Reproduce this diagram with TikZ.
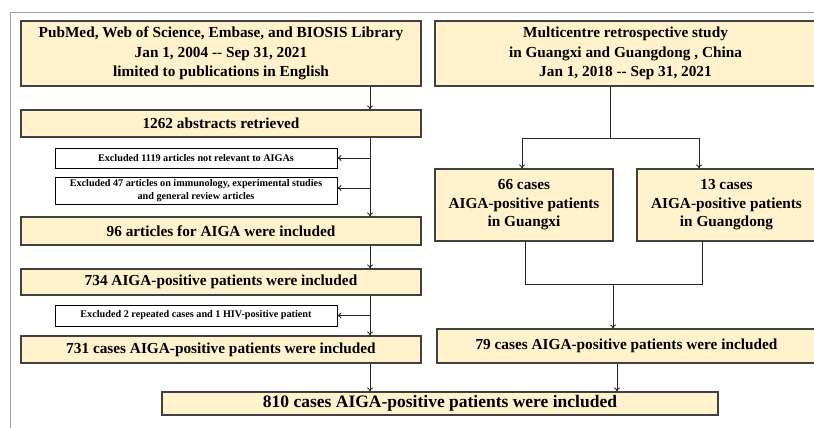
\documentclass[tikz,border=0pt]{standalone}
\usepackage{fontspec}
\setmainfont{Liberation Serif}
\usetikzlibrary{arrows.meta}
\definecolor{boxfill}{HTML}{FFF2CC}
\definecolor{boxline}{HTML}{404040}
\definecolor{framegray}{HTML}{A0A0A0}
\tikzset{
  mainbox/.style={draw=boxline, line width=1.1pt, fill=boxfill, inner sep=0pt, align=center,
    font=\fontsize{15.3}{19.5}\selectfont\bfseries},
  exbox/.style={draw=black, line width=0.8pt, fill=white, inner sep=0pt, align=center,
    font=\fontsize{10.2}{13}\selectfont\bfseries},
  conn/.style={draw=black!85, line width=0.9pt},
  arr/.style={conn, -{To[length=4pt,width=6pt]}},
}
\begin{document}
\begin{tikzpicture}[x=1pt,y=-1pt]
\useasboundingbox (0,0) rectangle (814,428);
\clip (0,0) rectangle (814,428);
% frame
\draw[framegray, line width=1pt] (10,428) -- (10,13) -- (814,13);
% left column boxes
\node[mainbox, minimum width=400pt, minimum height=65pt] (A) at (221,53.5)
  {PubMed, Web of Science, Embase, and BIOSIS Library\\Jan 1, 2004 -{}- Sep 31, 2021\\limited to publications in English};
\node[mainbox, minimum width=400pt, minimum height=27pt] (r1262) at (221,123.5) {1262 abstracts retrieved};
\node[exbox, minimum width=282pt, minimum height=20pt] (e1) at (196,158) {Excluded 1119 articles not relevant to AIGAs};
\node[exbox, minimum width=282pt, minimum height=27pt] (e2) at (196,190.5) {Excluded 47 articles on immunology, experimental studies\\and general review articles};
\node[mainbox, minimum width=400pt, minimum height=28pt] (r96) at (221,231) {96 articles for AIGA were included};
\node[mainbox, minimum width=400pt, minimum height=26pt] (r734) at (221,282) {734 AIGA-positive patients were included};
\node[exbox, minimum width=282pt, minimum height=21pt] (e3) at (196,315.5) {Excluded 2 repeated cases and 1 HIV-positive patient};
\node[mainbox, minimum width=400pt, minimum height=27pt] (r731) at (221,349.5) {731 cases AIGA-positive patients were included};
% right column boxes
\node[mainbox, minimum width=381pt, minimum height=65pt] (B) at (625.5,53.5)
  {Multicentre retrospective study\\in Guangxi and Guangdong , China\\Jan 1, 2018 -{}- Sep 31, 2021};
\node[mainbox, minimum width=178pt, minimum height=72pt, font=\fontsize{15.3}{18.5}\selectfont\bfseries] (g66) at (524,205)
  {66 cases\\AIGA-positive patients\\in Guangxi};
\node[mainbox, minimum width=179pt, minimum height=72pt, font=\fontsize{15.3}{18.5}\selectfont\bfseries] (g13) at (726.5,205)
  {13 cases\\AIGA-positive patients\\in Guangdong};
\node[mainbox, minimum width=379pt, minimum height=34pt] (r79) at (626.5,346) {79 cases AIGA-positive patients were included};
% bottom
\node[mainbox, minimum width=556pt, minimum height=23pt, font=\fontsize{17.5}{21}\selectfont\bfseries] (r810) at (440,403.5) {810 cases AIGA-positive patients were included};
% spine coordinates
\coordinate (s) at (370,0);
\coordinate (sb1) at (370,158);
\coordinate (sb2) at (370,188);
\coordinate (sb3) at (370,315.5);
% left connectors
\draw[arr] (A.south -| s) -- (r1262.north -| s);
\draw[arr] (r1262.south -| s) -- (r96.north -| s);
\draw[arr] (sb1) -- (sb1 -| e1.east);
\draw[arr] (sb2) -- (sb2 -| e2.east);
\draw[arr] (r96.south -| s) -- (r734.north -| s);
\draw[arr] (r734.south -| s) -- (r731.north -| s);
\draw[arr] (sb3) -- (e3.east);
\draw[arr] (r731.south -| s) -- (r810.north -| s);
% right connectors
\coordinate (bs) at (610,0);
\coordinate (hl) at (522,138);
\coordinate (hr) at (699,138);
\draw[conn] (B.south -| bs) -- (bs |- hl);
\draw[conn] (hl) -- (hr);
\draw[arr] (hl) -- (g66.north -| hl);
\draw[arr] (hr) -- (g13.north -| hr);
\coordinate (jl) at (525,284);
\coordinate (jr) at (702,284);
\coordinate (jm) at (613,284);
\draw[conn] (g66.south -| jl) -- (jl) -- (jr) -- (g13.south -| jr);
\draw[arr] (jm) -- (r79.north -| jm);
\coordinate (ms) at (617,0);
\draw[arr] (r79.south -| ms) -- (r810.north -| ms);
\end{tikzpicture}
\end{document}
